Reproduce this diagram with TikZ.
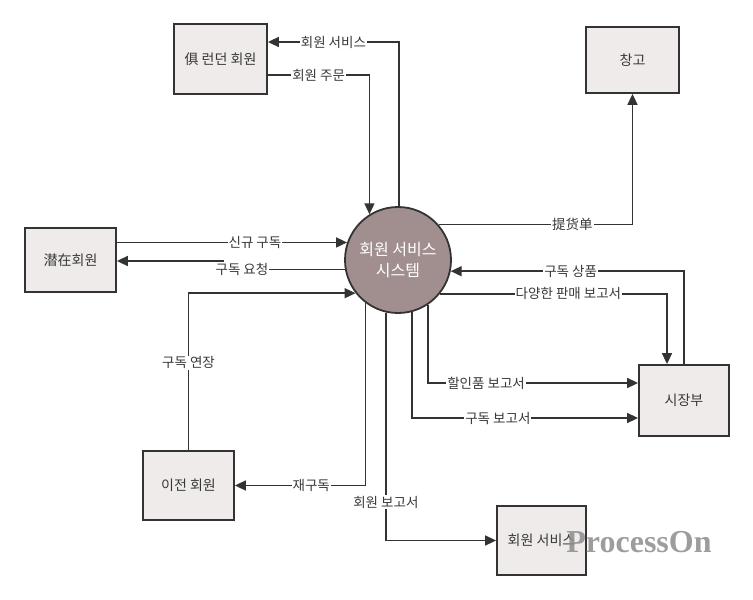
\documentclass[tikz,border=0pt]{standalone}
\usepackage{fontspec}
\setmainfont{Noto Sans CJK KR}
\newfontfamily\wmfont{Liberation Serif}
\usetikzlibrary{arrows.meta,calc}
\definecolor{boxfill}{HTML}{EFEBEA}
\definecolor{linec}{HTML}{333333}
\definecolor{sysfill}{HTML}{A08F8E}
\begin{document}
\begin{tikzpicture}[x=1pt,y=-1pt,
  box/.style={draw=linec,line width=1.8pt,fill=boxfill,inner sep=0pt,text=black!78,font=\fontsize{14}{16}\selectfont},
  arr/.style={draw=linec,line width=1.6pt,-{Triangle[length=11pt,width=10pt]}},
  lbl/.style={fill=white,inner sep=1pt,text=black!78,font=\fontsize{13.5}{15}\selectfont}]
\useasboundingbox (0,0) rectangle (753,600);
\node[box,minimum width=93pt,minimum height=70pt] (lon) at (220.5,59) {俱 런던 회원};
\node[box,minimum width=93pt,minimum height=66pt] (ware) at (632.5,60) {창고};
\node[box,minimum width=91pt,minimum height=64pt] (lat) at (70.5,260) {潜在회원};
\node[box,minimum width=90pt,minimum height=71pt] (mkt) at (684,400.5) {시장부};
\node[box,minimum width=91pt,minimum height=69pt] (prev) at (188.5,485.5) {이전 회원};
\node[box,minimum width=89pt,minimum height=69pt] (msvc) at (541.5,540.5) {회원 서비스};
\node[circle,draw=linec,line width=1.8pt,fill=sysfill,minimum size=106pt,inner sep=0pt,text=white,align=center,font=\fontsize{16}{21}\selectfont] (sys) at (398,260) {회원 서비스\\시스템};
% connectors
\draw[arr] (sys.89) |- ($(lon.east)+(0,-17)$) node[lbl,pos=0.75] {회원 서비스};
\draw[arr] ($(lon.east)+(0,16)$) -| (sys.122) node[lbl,pos=0.25] {회원 주문};
\draw[arr] (lat.east |- sys.161) -- (sys.161) node[lbl,pos=0.6] {신규 구독};
\draw[arr] (sys.190) -- ++(-122,0) node[lbl,pos=0.844] {구독 요청} |- ($(lat.east)+(0,1)$);
\draw[arr] (prev.north) |- (sys.218) node[lbl,pos=0.278] {구독 연장};
\draw[arr] (sys.233) |- (prev.east) node[lbl,pos=0.708] {재구독};
\draw[arr] (sys.257) |- (msvc.west) node[lbl,pos=0.416] {회원 보고서};
\draw[arr] (sys.285) |- ($(mkt.west)+(0,17.5)$) node[lbl,pos=0.69] {구독 보고서};
\draw[arr] (sys.304) |- ($(mkt.west)+(0,-17.5)$) node[lbl,pos=0.638] {할인품 보고서};
\draw[arr] (sys.321) -| ($(mkt.north)+(-17,0)$) node[lbl,pos=0.283] {다양한 판매 보고서};
\draw[arr] (mkt.north) |- (sys.348) node[lbl,pos=0.743] {구독 상품};
\draw[arr] (sys.41) -| (ware.south) node[lbl,pos=0.345] {提货单};
\node[text=black!45,opacity=0.85,font=\wmfont\bfseries\fontsize{32}{34}\selectfont,inner sep=0pt] (wm) at (639,542) {ProcessOn};
\end{tikzpicture}
\end{document}
